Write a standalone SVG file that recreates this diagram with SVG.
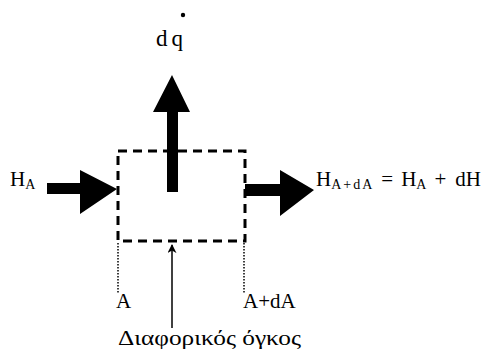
<svg xmlns="http://www.w3.org/2000/svg" width="490" height="349" viewBox="0 0 490 349">
<style>
.t{font-family:"Liberation Serif","Times New Roman","DejaVu Serif",serif;font-size:21px;fill:#000}
.s{font-size:14px}
.box{fill:none;stroke:#000;stroke-width:3;stroke-dasharray:9,6}
.dot{fill:none;stroke:#000;stroke-width:1.5;stroke-dasharray:1.5,1.5}
</style>
<defs>
<marker id="thin" viewBox="0 0 10 10" refX="9" refY="5" markerWidth="9" markerHeight="9" markerUnits="userSpaceOnUse" orient="auto"><path d="M0,0 L10,5 L0,10 L3,5 Z" fill="#000"/></marker>
</defs>
<g id="volume">
<rect class="box" x="118" y="151" width="127" height="90"/>
</g>
<g id="connectors">
<polygon id="arrow-in" points="47,183 80,183 80,170 117,189 80,214 80,194 47,194" fill="#000"/>
<polygon id="arrow-out" points="245,184 280,184 280,170 314,190 280,216 280,196 245,196" fill="#000"/>
<polygon id="arrow-up" points="167,192 167,112 153,112 172,75 190,112 178,112 178,192" fill="#000"/>
<line class="dot" x1="118" y1="243" x2="118" y2="294"/>
<line class="dot" x1="244" y1="243" x2="244" y2="294"/>
<line x1="172" y1="328" x2="172" y2="245" stroke="#000" stroke-width="1.5" marker-end="url(#thin)"/>
</g>
<g id="labels">
<text class="t" x="156" y="46" style="font-size:23px;letter-spacing:4px">dq</text>
<circle cx="183" cy="15" r="2.2" fill="#000"/>
<text class="t" x="10" y="186">H<tspan class="s" dy="3">A</tspan></text>
<text class="t" x="316" y="186">H<tspan class="s" dy="3" letter-spacing="2">A+dA</tspan><tspan dy="-3" dx="7">=</tspan><tspan dx="8">H</tspan><tspan class="s" dy="3">A</tspan><tspan dy="-3" dx="8">+</tspan><tspan dx="9">dH</tspan></text>
<text class="t" x="116" y="308">A</text>
<text class="t" x="243" y="308">A+dA</text>
<text class="t" x="118" y="345" textLength="183" lengthAdjust="spacingAndGlyphs">Διαφορικός όγκος</text>
</g>
</svg>
